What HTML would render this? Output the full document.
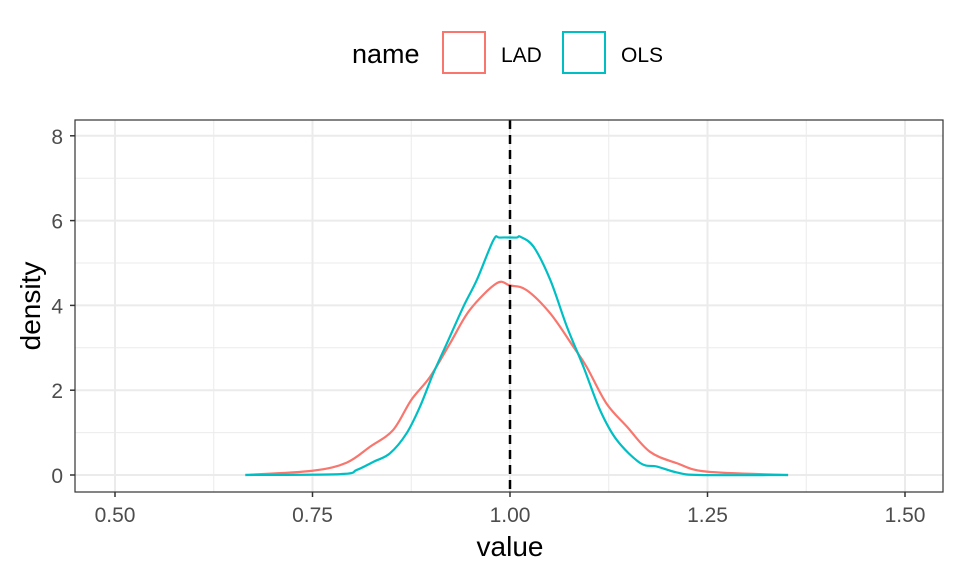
<!DOCTYPE html>
<html><head><meta charset="utf-8"><style>
body{margin:0;background:#fff;}
svg text{font-family:"Liberation Sans",Arial,sans-serif;}
</style></head><body>
<svg id="chart" width="960" height="576" viewBox="0 0 960 576" xmlns="http://www.w3.org/2000/svg">
<g id="grid"></g>
<g id="series"></g>
<g id="axes"></g>
<text x="510" y="556" font-size="28" text-anchor="middle" fill="#000">value</text>
<text transform="translate(40,306) rotate(-90)" font-size="28" text-anchor="middle" fill="#000">density</text>
<g>
<text x="352" y="63" font-size="27" fill="#000">name</text>
<g>
<rect x="443" y="32" width="42" height="41" fill="#fff" stroke="#F8766D" stroke-width="2"/>
<text x="501" y="62" font-size="21" fill="#000">LAD</text></g>
<g>
<rect x="563" y="32" width="42" height="41" fill="#fff" stroke="#00BFC4" stroke-width="2"/>
<text x="621" y="62" font-size="21" fill="#000">OLS</text></g>
</g>
</svg>
<script>
const xTicks=[0.5,0.75,1.0,1.25,1.5];
const xTickLabels=["0.50","0.75","1.00","1.25","1.50"];
const yTicks=[0,2,4,6,8];
const ladX=[0.665,0.75,0.793,0.823,0.852,0.875,0.899,0.924,0.949,0.983,1.0,1.021,1.051,1.08,1.097,1.122,1.148,1.177,1.211,1.249,1.352];
const ladY=[0,0.1,0.29,0.67,1.06,1.77,2.32,3.1,3.89,4.52,4.47,4.36,3.81,3.03,2.55,1.69,1.14,0.55,0.28,0.08,0];
const olsX=[0.665,0.785,0.806,0.827,0.848,0.869,0.886,0.903,0.92,0.941,0.958,0.979,0.987,1.008,1.013,1.03,1.051,1.072,1.093,1.114,1.135,1.165,1.186,1.211,1.24,1.352];
const olsY=[0,0.02,0.12,0.31,0.51,0.98,1.61,2.4,3.1,3.97,4.6,5.54,5.6,5.6,5.62,5.38,4.6,3.5,2.55,1.53,0.83,0.28,0.2,0.06,0,0];
const refLine=1.0;
const L=75,R=943,T=120,B=492;
const sx=v=>115+(v-0.5)*790;
const sy=d=>475-d*42.4;
const NS="http://www.w3.org/2000/svg";
function mk(tag,attrs,parent){const e=document.createElementNS(NS,tag);for(const k in attrs)e.setAttribute(k,attrs[k]);parent.appendChild(e);return e;}
const grid=document.getElementById('grid'),series=document.getElementById('series'),axes=document.getElementById('axes');
mk('rect',{x:L,y:T,width:R-L,height:B-T,fill:'#fff'},grid);
for(let i=0;i<xTicks.length-1;i++){const v=(xTicks[i]+xTicks[i+1])/2;const l=mk('line',{x1:sx(v),x2:sx(v),y1:T,y2:B,stroke:'#ebebeb','stroke-width':1},grid);}
for(let i=0;i<yTicks.length-1;i++){const v=(yTicks[i]+yTicks[i+1])/2;const l=mk('line',{x1:L,x2:R,y1:sy(v),y2:sy(v),stroke:'#ebebeb','stroke-width':1},grid);}
xTicks.forEach((v,i)=>{const l=mk('line',{x1:sx(v),x2:sx(v),y1:T,y2:B,stroke:'#ebebeb','stroke-width':2},grid);
const t=mk('line',{x1:sx(v),x2:sx(v),y1:B,y2:B+5,stroke:'#333','stroke-width':1.5},axes);
const tx=mk('text',{x:sx(v),y:B+30,'font-size':21,'text-anchor':'middle',fill:'#4d4d4d'},axes);tx.textContent=xTickLabels[i];});
yTicks.forEach(v=>{const l=mk('line',{x1:L,x2:R,y1:sy(v),y2:sy(v),stroke:'#ebebeb','stroke-width':2},grid);
const t=mk('line',{x1:L-5,x2:L,y1:sy(v),y2:sy(v),stroke:'#333','stroke-width':1.5},axes);
const tx=mk('text',{x:L-12,y:sy(v)+8,'font-size':21,'text-anchor':'end',fill:'#4d4d4d'},axes);tx.textContent=String(v);});
function smooth(xs,ys){const p=xs.map((x,i)=>[sx(x),sy(ys[i])]);let d='M'+p[0][0]+','+p[0][1];
for(let i=0;i<p.length-1;i++){const p0=p[Math.max(0,i-1)],p1=p[i],p2=p[i+1],p3=p[Math.min(p.length-1,i+2)];
const c1=[p1[0]+(p2[0]-p0[0])/6,p1[1]+(p2[1]-p0[1])/6],c2=[p2[0]-(p3[0]-p1[0])/6,p2[1]-(p3[1]-p1[1])/6];
d+=' C'+c1[0]+','+c1[1]+' '+c2[0]+','+c2[1]+' '+p2[0]+','+p2[1];}return d;}
const lad=mk('path',{d:smooth(ladX,ladY),fill:'none',stroke:'#F8766D','stroke-width':2.2},series);


const ols=mk('path',{d:smooth(olsX,olsY),fill:'none',stroke:'#00BFC4','stroke-width':2.2},series);


const ref=mk('line',{x1:sx(refLine),x2:sx(refLine),y1:T,y2:B,stroke:'#000','stroke-width':2.5,'stroke-dasharray':'9,6'},series);


const border=mk('rect',{x:L,y:T,width:R-L,height:B-T,fill:'none',stroke:'#333','stroke-width':1.2},axes);


</script>
</body></html>
